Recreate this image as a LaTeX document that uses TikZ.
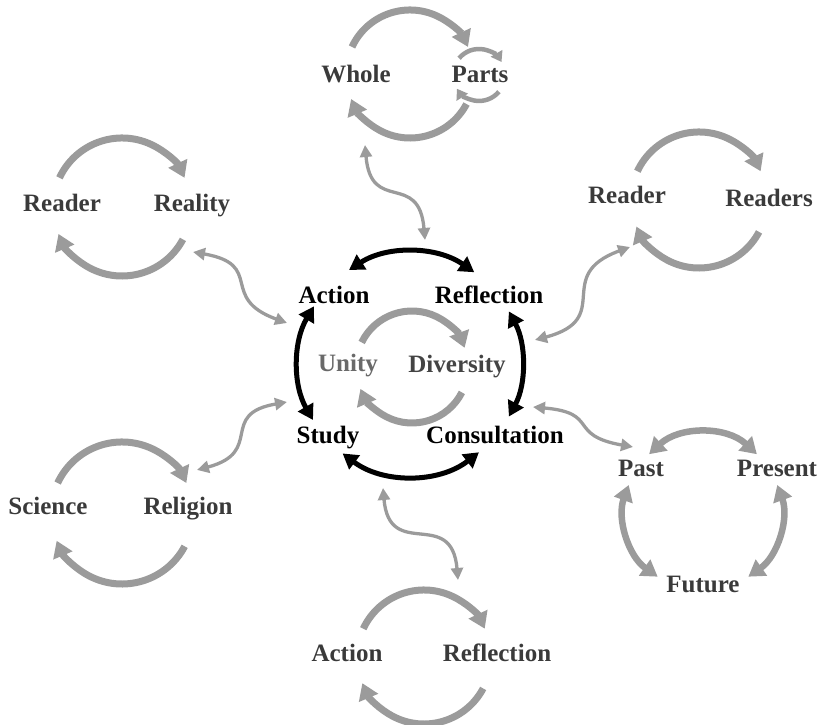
\documentclass[tikz,border=0pt]{standalone}
\usepackage{fontspec}
\setmainfont{Liberation Serif}
\usetikzlibrary{arrows.meta}
\definecolor{arrowgray}{RGB}{155,155,155}
\definecolor{labelgray}{RGB}{58,58,58}
\definecolor{unitygray}{RGB}{105,105,105}
\definecolor{divgray}{RGB}{68,68,68}
\begin{document}
\begin{tikzpicture}[x=1pt,y=1pt,
  lbl/.style={font=\fontsize{25}{30}\selectfont\bfseries, text=labelgray, anchor=base, inner sep=0pt},
  clbl/.style={lbl, text=black},
  loopar/.style={draw=arrowgray, line width=7pt, -{Triangle[length=16pt,width=20pt]}},
  sloopar/.style={draw=arrowgray, line width=4.5pt, -{Triangle[length=10pt,width=13pt]}},
  blkar/.style={draw=black, line width=5pt, {Triangle[length=15pt,width=17pt]}-{Triangle[length=15pt,width=17pt]}},
  dblar/.style={draw=arrowgray, line width=6.5pt, {Triangle[length=16pt,width=19pt]}-{Triangle[length=16pt,width=19pt]}},
  linkar/.style={draw=arrowgray, line width=3.3pt, {Triangle[length=12pt,width=12pt]}-{Triangle[length=12pt,width=12pt]}, looseness=1.6}
]
\useasboundingbox (0,0) rectangle (822,725);

% ---------- centres of the cycles ----------
\coordinate (cC)  at (410,361);   % central black cycle
\coordinate (cU)  at (412,358);   % unity / diversity
\coordinate (cT)  at (410,651);   % whole / parts
\coordinate (cP)  at (479,650);   % small parts cycle
\coordinate (cLT) at (122,518);   % reader / reality
\coordinate (cRT) at (699,525);   % reader / readers
\coordinate (cLB) at (122,212);   % science / religion
\coordinate (cB)  at (424,68);    % action / reflection (bottom)
\coordinate (cF)  at (703,213);   % past / present / future

% ---------- labels ----------
\node[clbl] (act)  at (334,421) {Action};
\node[clbl] (refl) at (489,421) {Reflection};
\node[clbl] (stu)  at (328,281) {Study};
\node[clbl] (cons) at (495,281) {Consultation};
\node[lbl, text=unitygray] (uni) at (348,353) {Unity};
\node[lbl, text=divgray]   (div) at (457,352) {Diversity};

\node[lbl] (whole) at (356,642) {Whole};
\node[lbl] (parts) at (480,642) {Parts};
\node[lbl] (rdl)   at (62,513)  {Reader};
\node[lbl] (real)  at (192,513) {Reality};
\node[lbl] (rdr)   at (627,521) {Reader};
\node[lbl] (rdrs)  at (769,518) {Readers};
\node[lbl] (sci)   at (48,210)  {Science};
\node[lbl] (rel)   at (188,210) {Religion};
\node[lbl] (bact)  at (347,63)  {Action};
\node[lbl] (brefl) at (497,63)  {Reflection};
\node[lbl] (past)  at (641,248) {Past};
\node[lbl] (pres)  at (777,248) {Present};
\node[lbl] (fut)   at (703,132) {Future};

% ---------- central black cycle ----------
\draw[blkar] (cC) ++(123:112) arc[start angle=123,end angle=55,radius=112];
\draw[blkar] (cC) ++(149:112) arc[start angle=149,end angle=210,radius=112];
\draw[blkar] (cC) ++(28:112) arc[start angle=28,end angle=-28,radius=112];
\draw[blkar] (cC) ++(233:112) arc[start angle=233,end angle=308,radius=112];

% ---------- unity / diversity ----------
\draw[loopar] (cU) ++(154:56) arc[start angle=154,end angle=20,radius=56];
\draw[loopar] (cU) ++(-27:56) arc[start angle=-27,end angle=-157,radius=56];

% ---------- outer two-term cycles ----------
\foreach \c/\r in {cT/64, cLT/69, cRT/68, cLB/71, cB/67}{
  \draw[loopar] (\c) ++(155:\r) arc[start angle=155,end angle=25,radius=\r];
  \draw[loopar] (\c) ++(-28:\r) arc[start angle=-28,end angle=-157,radius=\r];
}

% small cycle round "Parts"
\draw[sloopar] (cP) ++(140:26) arc[start angle=140,end angle=30,radius=26];
\draw[sloopar] (cP) ++(-40:26) arc[start angle=-40,end angle=-148,radius=26];

% ---------- past / present / future ----------
\draw[dblar] (cF) ++(133:79) arc[start angle=133,end angle=47,radius=79];
\draw[dblar] (cF) ++(160:79) arc[start angle=160,end angle=235,radius=79];
\draw[dblar] (cF) ++(20:79) arc[start angle=20,end angle=-55,radius=79];

% ---------- links between the centre and the outer cycles ----------
\coordinate (l1a) at (365,580); \coordinate (l1b) at (425,485);
\coordinate (l2a) at (193,473); \coordinate (l2b) at (287,402);
\coordinate (l3a) at (630,478); \coordinate (l3b) at (535,385);
\coordinate (l4a) at (287,323); \coordinate (l4b) at (197,255);
\coordinate (l5a) at (533,318); \coordinate (l5b) at (633,278);
\coordinate (l6a) at (383,237); \coordinate (l6b) at (458,145);

\draw[linkar] (l1a) to[out=-85,in=95] (l1b);
\draw[linkar] (l2a) to[out=-10,in=160] (l2b);
\draw[linkar] (l3a) to[out=200,in=15] (l3b);
\draw[linkar] (l4a) to[out=190,in=15] (l4b);
\draw[linkar] (l5a) to[out=-5,in=170] (l5b);
\draw[linkar] (l6a) to[out=-85,in=95] (l6b);
\end{tikzpicture}
\end{document}
